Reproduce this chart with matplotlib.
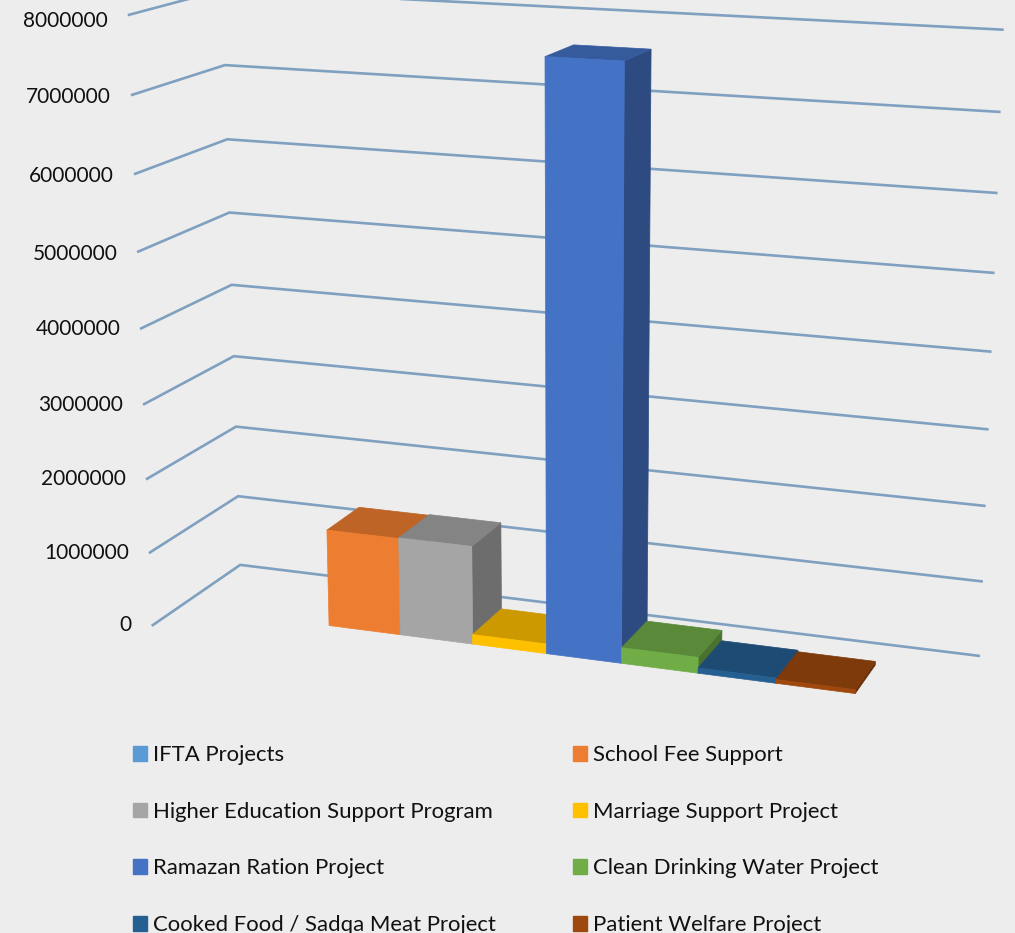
import numpy as np
import matplotlib
matplotlib.use('Agg')
import matplotlib.pyplot as plt
from matplotlib.patches import Patch

# Values
projects = ['IFTA Projects', 'School Fee Support', 'Higher Education Support Program',
            'Marriage Support Project', 'Ramazan Ration Project', 'Clean Drinking Water Project',
            'Cooked Food / Sadqa Meat Project', 'Patient Welfare Project']
amounts = [0, 1310000, 1320000, 130000, 7650000, 210000, 70000, 50000]
colors = ['#5B9BD5', '#ED7D31', '#A5A5A5', '#FFC000', '#4472C4', '#70AD47', '#255E91', '#9E480E']
ticks = [0, 1000000, 2000000, 3000000, 4000000, 5000000, 6000000, 7000000, 8000000]

# Where the chart's own 3D box lands on the page, used to fit the camera below
wall_front = [(153, 626), (150, 552), (148, 479), (144, 404), (141, 329), (139, 252), (135, 174), (132, 95), (129, 15)]
wall_back = [(241, 565), (238, 496), (236, 427), (234, 356), (232, 285), (230, 212), (228, 139), (224, 64)]
wall_right = [(978, 657), (981, 582), (984, 507), (987, 430), (990, 352), (993, 273), (997, 193), (999, 112), (1002, 29)]
floor_front = [(327, 626), (399, 635), (472, 644), (546, 654), (621, 662), (698, 672), (777, 683), (857, 693)]
FIRST_SLOT = 1.15   # left edge of the first category, in category widths
WALL_END = 10.3
BAR_FRONT, BAR_BACK = 0.3, 0.7
MILLION = 1e6

world, page = [], []
for k, p in enumerate(wall_front):
    world.append((0, 0, k)); page.append(p)
for k, p in enumerate(wall_back):
    world.append((0, 1, k)); page.append(p)
for k, p in enumerate(wall_right):
    world.append((WALL_END, 1, k)); page.append(p)
for k, p in enumerate(floor_front):
    world.append((FIRST_SLOT + 1 + k, BAR_FRONT, 0)); page.append(p)
world.append((FIRST_SLOT + 8, BAR_BACK, 0)); page.append((877, 663))

# plain DLT fit of the 3x4 camera matrix
A, b = [], []
for (X, D, Z), (u, v) in zip(world, page):
    A.append([X, D, Z, 1, 0, 0, 0, 0, -u * X, -u * D, -u * Z]); b.append(u)
    A.append([0, 0, 0, 0, X, D, Z, 1, -v * X, -v * D, -v * Z]); b.append(v)
sol = np.linalg.lstsq(np.array(A, float), np.array(b, float), rcond=None)[0]
CAM = np.append(sol, 1).reshape(3, 4)


def project(x, d, value):
    q = CAM @ np.array([x, d, value / MILLION, 1.0])
    return q[0] / q[2], q[1] / q[2]


def shade(color, f):
    rgb = np.array(matplotlib.colors.to_rgb(color)) * f
    return tuple(rgb)


def face(ax, pts, color):
    xy = [project(*p) for p in pts]
    ax.fill(*zip(*xy), color=color, lw=0.5, zorder=3)


BG = '#EDEDED'
GRID = '#80A0C0'
plt.rcParams['font.family'] = ['Lato', 'DejaVu Sans']

fig = plt.figure(figsize=(10.15, 9.33), dpi=100, facecolor=BG)
ax = fig.add_axes([0, 0, 1, 1])
ax.set_xlim(0, 1015)
ax.set_ylim(933, 0)
ax.axis('off')

# gridlines run along the side wall and the back wall
label_dy = [0, 1, 0, 1, 1, 2, 2, 2, 6]
for t, dy in zip(ticks, label_dy):
    pts = [project(0, 0, t), project(0, 1, t), project(WALL_END, 1, t)]
    ax.plot(*zip(*pts), color=GRID, lw=1.9, solid_joinstyle='miter', zorder=1)
    ax.text(pts[0][0] - 21, pts[0][1] + dy, str(t), ha='right', va='center', fontsize=15, color='#111111')

# left to right is back to front for this camera
for i, (val, col) in enumerate(zip(amounts, colors)):
    if val == 0:
        continue
    x0, x1 = FIRST_SLOT + i, FIRST_SLOT + i + 1
    face(ax, [(x1, BAR_FRONT, 0), (x1, BAR_BACK, 0), (x1, BAR_BACK, val), (x1, BAR_FRONT, val)], shade(col, 0.66))
    face(ax, [(x0, BAR_FRONT, val), (x1, BAR_FRONT, val), (x1, BAR_BACK, val), (x0, BAR_BACK, val)], shade(col, 0.8))
    face(ax, [(x0, BAR_FRONT, 0), (x1, BAR_FRONT, 0), (x1, BAR_FRONT, val), (x0, BAR_FRONT, val)], col)

# legend fills by column, the chart reads by row
order = [0, 2, 4, 6, 1, 3, 5, 7]
handles = [Patch(color=colors[i], label=projects[i]) for i in order]
ax.legend(handles=handles, ncol=2, frameon=False, loc='upper left', bbox_to_anchor=(133, 745),
          bbox_transform=ax.transData, fontsize=15.9, handlelength=0.65, handleheight=0.65,
          handletextpad=0.27, labelspacing=1.66, columnspacing=3.46, borderpad=0, borderaxespad=0,
          labelcolor='#111111')

fig.savefig('out.png', dpi=100, facecolor=BG)
